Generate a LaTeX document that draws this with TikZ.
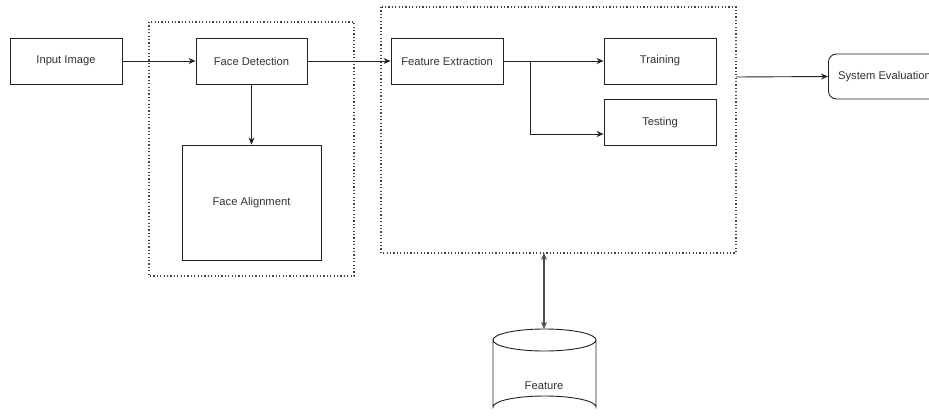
\documentclass[tikz,border=0pt]{standalone}
\usepackage{fontspec}
\setmainfont{Liberation Sans}
\usetikzlibrary{arrows.meta,positioning}
\definecolor{ink}{HTML}{222222}
\definecolor{txt}{HTML}{333333}
\tikzset{
  label font/.style={text=txt, font=\fontsize{11.2}{13}\selectfont},
  box/.style={draw=ink, line width=0.9pt, rectangle, inner sep=0pt, label font},
  group/.style={draw=ink!85, line width=1.3pt, dash pattern=on 1.2pt off 2.2pt, line cap=butt},
  link/.style={draw=ink, line width=0.9pt, -{Stealth[length=7pt,width=6pt]}},
  both/.style={draw=ink!80, line width=1.3pt, {Stealth[length=7pt,width=6pt]}-{Stealth[length=7pt,width=6pt]}},
}
\begin{document}
\begin{tikzpicture}[x=1pt,y=-1pt]
\useasboundingbox[fill=white] (0,0) rectangle (929,418);

% dotted grouping frames
\draw[group] (149,22) rectangle (354,276);
\draw[group] (381,7) rectangle (736,253);
\coordinate (frameR) at (736,77);
\coordinate (frameB) at (544,253);

% process boxes
\node[box, minimum width=112pt, minimum height=46pt] (input) at (66,61) {Input Image};
\node[box, minimum width=111pt, minimum height=46pt] (detect) at (251.5,61) {Face Detection};
\node[box, minimum width=139pt, minimum height=115pt] (align) at (251.5,202.5) {Face Alignment};
\node[box, minimum width=112pt, minimum height=46pt] (extract) at (447,61) {Feature Extraction};
\node[box, minimum width=112pt, minimum height=46pt] (train) at (660,61) {Training};
\node[box, minimum width=112pt, minimum height=46pt] (test) at (660,122.5) {Testing};
\node[box, rounded corners=8pt, minimum width=130pt, minimum height=45pt, anchor=west] (eval) at (828,76.5) {\hspace*{-18pt}System Evaluation};

% feature store cylinder
\node[inner sep=0pt, minimum width=103pt, minimum height=89pt] (feat) at (544,373.5) {};
\node[label font] (featlabel) at (544,386) {Feature};
\draw[ink, line width=0.9pt] (493,340) arc[start angle=180, end angle=360, x radius=51.5, y radius=11]
  arc[start angle=0, end angle=180, x radius=51.5, y radius=11] -- (493,407)
  arc[start angle=180, end angle=360, x radius=51.5, y radius=11] -- (596,340);

% connectors
\draw[link] (input.east) -- (detect.west);
\draw[link] (detect.south) -- (align.north);
\draw[link] (detect.east) -- (extract.west);
\coordinate (split) at (530.5,61);
\draw[link] (extract.east) -- (train.west);
\draw[link] (split) |- (test.west |- 0,134);
\draw[link] (frameR) -- (eval.west);
\draw[both] (frameB) -- (feat.north);
\end{tikzpicture}
\end{document}
